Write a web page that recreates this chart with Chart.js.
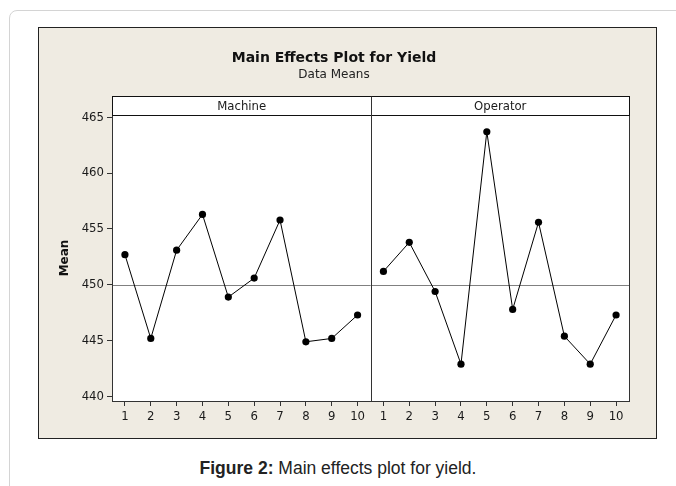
<!DOCTYPE html>
<html>
<head>
<meta charset="utf-8">
<script src="https://cdn.jsdelivr.net/npm/chart.js@4.4.1/dist/chart.umd.min.js"></script>
<style>
  body { margin: 0; background: #fff; width: 676px; height: 486px; overflow: hidden; position: relative; }
  #card { position: absolute; left: 9px; top: 10px; width: 700px; height: 500px; border: 1px solid #d4d4d4; border-radius: 8px; }
  #panel { position: absolute; left: 38px; top: 27px; width: 617px; height: 410px; border: 1px solid #222; background: #efebe2; }
  #chart { position: absolute; left: 0; top: 0; }
  #caption { position: absolute; left: 0; width: 676px; top: 458px; line-height: 20px; text-align: center; font-family: "Liberation Sans", Arial, sans-serif; font-size: 17.5px; color: #222; }
</style>
</head>
<body>
<div id="card"></div>
<div id="panel"><canvas id="chart" width="617" height="410"></canvas></div>
<div id="caption"><b>Figure 2:</b> Main effects plot for yield.</div>
<script>
// 水準と平均値
const levels = ['1', '2', '3', '4', '5', '6', '7', '8', '9', '10'];
const factorNames = ['Machine', 'Operator'];
const machineMeans = [452.7, 445.2, 453.1, 456.3, 448.9, 450.6, 455.8, 444.9, 445.2, 447.3];
const operatorMeans = [451.2, 453.8, 449.4, 442.9, 463.7, 447.8, 455.6, 445.4, 442.9, 447.3];
const yTicks = [440, 445, 450, 455, 460, 465];
const grandMean = 450;

const FONT = '"DejaVu Sans", Verdana, sans-serif';
const NARROW = '"DejaVu Sans Condensed", "DejaVu Sans", Tahoma, sans-serif';

// Operator の水準は Machine の後ろに並べる
function toPoints(values, offset) {
    return values.map(function (v, i) { return { x: i + 1 + offset, y: v }; });
}

const panelPlugin = {
    id: 'panels',
    beforeDraw(chart) {
        const ctx = chart.ctx, a = chart.chartArea;
        ctx.save();
        ctx.fillStyle = '#ffffff';
        ctx.fillRect(a.left, a.top - 19, a.right - a.left, a.bottom - a.top + 19);
        ctx.restore();
    },
    beforeDatasetsDraw(chart) {
        const ctx = chart.ctx, a = chart.chartArea;
        const yy = Math.round(chart.scales.y.getPixelForValue(grandMean)) + 0.5;
        ctx.save();
        ctx.strokeStyle = '#808080';
        ctx.lineWidth = 1;
        ctx.beginPath();
        ctx.moveTo(a.left, yy);
        ctx.lineTo(a.right, yy);
        ctx.stroke();
        ctx.restore();
    },
    afterDraw(chart) {
        const ctx = chart.ctx, a = chart.chartArea;
        const x = chart.scales.x;
        const mid = Math.round(x.getPixelForValue(levels.length + 0.5)) + 0.5;
        const top = Math.round(a.top) + 0.5;
        ctx.save();
        ctx.strokeStyle = '#333';
        ctx.lineWidth = 1;
        // 枠
        ctx.strokeRect(Math.round(a.left) + 0.5, top, Math.round(a.right - a.left), Math.round(a.bottom - a.top));
        // 見出し
        ctx.strokeStyle = '#111';
        ctx.strokeRect(Math.round(a.left) + 0.5, top - 19, Math.round(a.right - a.left), 19);
        ctx.strokeStyle = '#333';
        ctx.beginPath();
        ctx.moveTo(mid, top - 19);
        ctx.lineTo(mid, a.bottom);
        ctx.stroke();
        ctx.fillStyle = '#1a1a1a';
        ctx.font = '13px ' + NARROW;
        ctx.textAlign = 'center';
        ctx.textBaseline = 'middle';
        ctx.fillText(factorNames[0], (a.left + mid) / 2, top - 9);
        ctx.fillText(factorNames[1], (mid + a.right) / 2, top - 9);
        ctx.restore();
    }
};

const ctx = document.getElementById('chart').getContext('2d');
const lineStyle = {
    borderColor: '#000',
    backgroundColor: '#000',
    borderWidth: 1,
    pointRadius: 3.6,
    pointBorderWidth: 0,
    tension: 0
};

new Chart(ctx, {
    type: 'line',
    data: {
        datasets: [
            Object.assign({ label: factorNames[0], data: toPoints(machineMeans, 0) }, lineStyle),
            Object.assign({ label: factorNames[1], data: toPoints(operatorMeans, levels.length) }, lineStyle)
        ]
    },
    options: {
        responsive: false,
        animation: false,
        devicePixelRatio: 1,
        layout: { padding: { left: 0, right: 27, top: 0, bottom: 0 } },
        plugins: {
            legend: { display: false },
            tooltip: { enabled: false },
            title: {
                display: true,
                text: 'Main Effects Plot for Yield',
                color: '#111',
                font: { family: FONT, size: 14, weight: 'bold' },
                padding: { top: 21.6, bottom: 0 }
            },
            subtitle: {
                display: true,
                text: 'Data Means',
                color: '#222',
                font: { family: FONT, size: 12 },
                padding: { top: 1.4, bottom: 32.8 }
            }
        },
        scales: {
            x: {
                type: 'linear',
                min: 0.5,
                max: levels.length * 2 + 0.5,
                afterBuildTicks: function (scale) {
                    const t = [];
                    for (let i = 1; i <= levels.length * 2; i++) t.push({ value: i });
                    scale.ticks = t;
                },
                afterFit: function (scale) { scale.height = 37; },
                ticks: {
                    autoSkip: false,
                    maxRotation: 0,
                    color: '#1a1a1a',
                    font: { family: NARROW, size: 13 },
                    padding: 3,
                    callback: function (v) { return levels[(v - 1) % levels.length]; }
                },
                grid: { drawOnChartArea: false, drawTicks: true, tickLength: 5, color: '#333' },
                border: { display: true, color: '#333' }
            },
            y: {
                type: 'linear',
                min: 439.6,
                max: 465.2,
                afterBuildTicks: function (scale) {
                    scale.ticks = yTicks.map(function (v) { return { value: v }; });
                },
                afterFit: function (scale) { scale.width = 73; },
                ticks: {
                    color: '#1a1a1a',
                    font: { family: NARROW, size: 13 },
                    padding: 3
                },
                title: {
                    display: true,
                    text: 'Mean',
                    color: '#111',
                    font: { family: FONT, size: 12, weight: 'bold' },
                    padding: { top: 19, bottom: 0 }
                },
                grid: { drawOnChartArea: false, drawTicks: true, tickLength: 5, color: '#333' },
                border: { display: true, color: '#333' }
            }
        }
    },
    plugins: [panelPlugin]
});
</script>
</body>
</html>
